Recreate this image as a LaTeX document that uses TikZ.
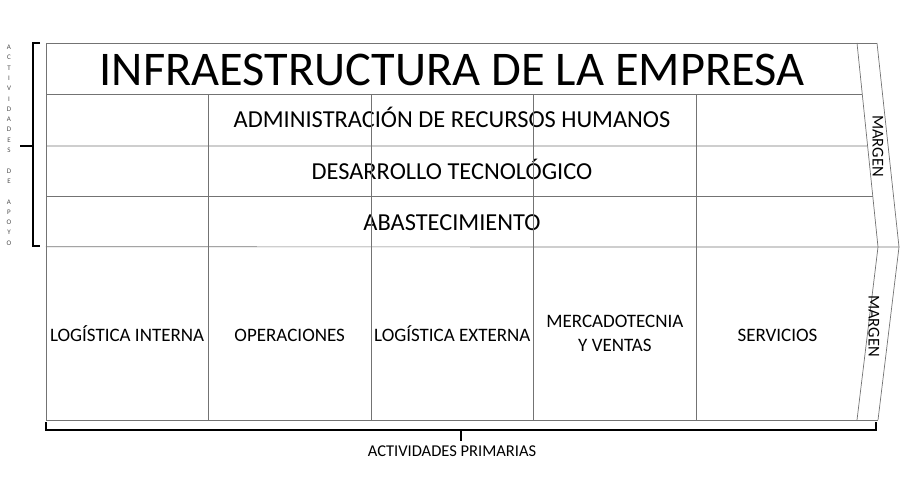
\documentclass[tikz,border=0pt]{standalone}
\usepackage{fontspec}
\setmainfont{Carlito}
\usetikzlibrary{positioning,calc}

\tikzset{
	frame/.style={draw=black!55, line width=0.7pt},
	bracket/.style={draw=black, line width=1.3pt},
	support/.style={anchor=base, font=\fontsize{24.4}{28}\selectfont},
	primary/.style={rectangle, minimum width=162.2pt, minimum height=173pt, inner sep=0pt, align=center, font=\fontsize{19}{24}\selectfont, execute at begin node=\vphantom{Í}},
	margen/.style={rotate=-90, font=\fontsize{16.5}{20}\selectfont},
	apoyo/.style={font=\fontsize{7}{8}\selectfont, text=black!70, inner sep=0pt},
}

\begin{document}
\begin{tikzpicture}[x=1pt, y=-1pt, node distance=0pt]
	\useasboundingbox (0,0) rectangle (900,500);

	% corners of the frame and of the margin arrow
	\coordinate (nw) at (46,43);
	\coordinate (sw) at (46,420);
	\coordinate (ntop) at (857,43);
	\coordinate (ntip) at (878,247);
	\coordinate (nbot) at (857,420);
	\coordinate (otop) at (877,43);
	\coordinate (otip) at (899,247);
	\coordinate (obot) at (878,420);

	% primary activities
	\node (login) [primary] at (127.1,333.5) {LOGÍSTICA INTERNA};
	\node (oper) [primary, right=of login] {OPERACIONES};
	\node (logext) [primary, right=of oper] {LOGÍSTICA EXTERNA};
	\node (merca) [primary, right=of logext] {MERCADOTECNIA\\Y VENTAS};
	\node (serv) [primary, right=of merca] {SERVICIOS};

	% support activities
	\node (infra) [anchor=base, font=\fontsize{48.4}{56}\selectfont] at (452,86) {INFRAESTRUCTURA DE LA EMPRESA};
	\node (rrhh) [support] at (452,128) {ADMINISTRACIÓN DE RECURSOS HUMANOS};
	\node (tecno) [support] at (452,179) {DESARROLLO TECNOLÓGICO};
	\node (abast) [support] at (452,230) {ABASTECIMIENTO};

	% frame
	\draw[frame] (nw) -- (otop);
	\draw[frame] (nw) -- (sw) -- (obot);
	\draw[frame] (46,94) -- ($(ntop)!.25!(ntip)$);
	\draw[frame] (46,146) -- ($(ntop)!.505!(ntip)$);
	\draw[frame] (46,196) -- ($(ntop)!.75!(ntip)$);
	\draw[frame] (login.north west) -- (otip);
	\foreach \c in {login, oper, logext, merca}
		\draw[frame] (\c.south east) -- (\c.east |- 0,94);
	\draw[frame] (ntop) -- (ntip) -- (nbot);
	\draw[frame] (otop) -- (otip) -- (obot);

	\node (margen1) [margen] at (878,146) {MARGEN};
	\node (margen2) [margen] at (874,326) {MARGEN};

	% brackets
	\draw[bracket] (40,43) -- (33,43) -- (33,246) -- (40,246);
	\draw[bracket] (33,146) -- (20,146);
	\foreach \l [count=\i] in {A,C,T,I,V,I,D,A,D,E,S,{},D,E,{},A,P,O,Y,O}
		\node[apoyo] at (9,37+\i*10.3) {\l};

	\draw[bracket] (46,422) -- (46,430) -- (876,430) -- (876,422);
	\draw[bracket] (461,430) -- (461,441) coordinate (ptick);
	\node (prim) [anchor=base, font=\fontsize{16.5}{20}\selectfont] at (452,456) {ACTIVIDADES PRIMARIAS};
\end{tikzpicture}
\end{document}
